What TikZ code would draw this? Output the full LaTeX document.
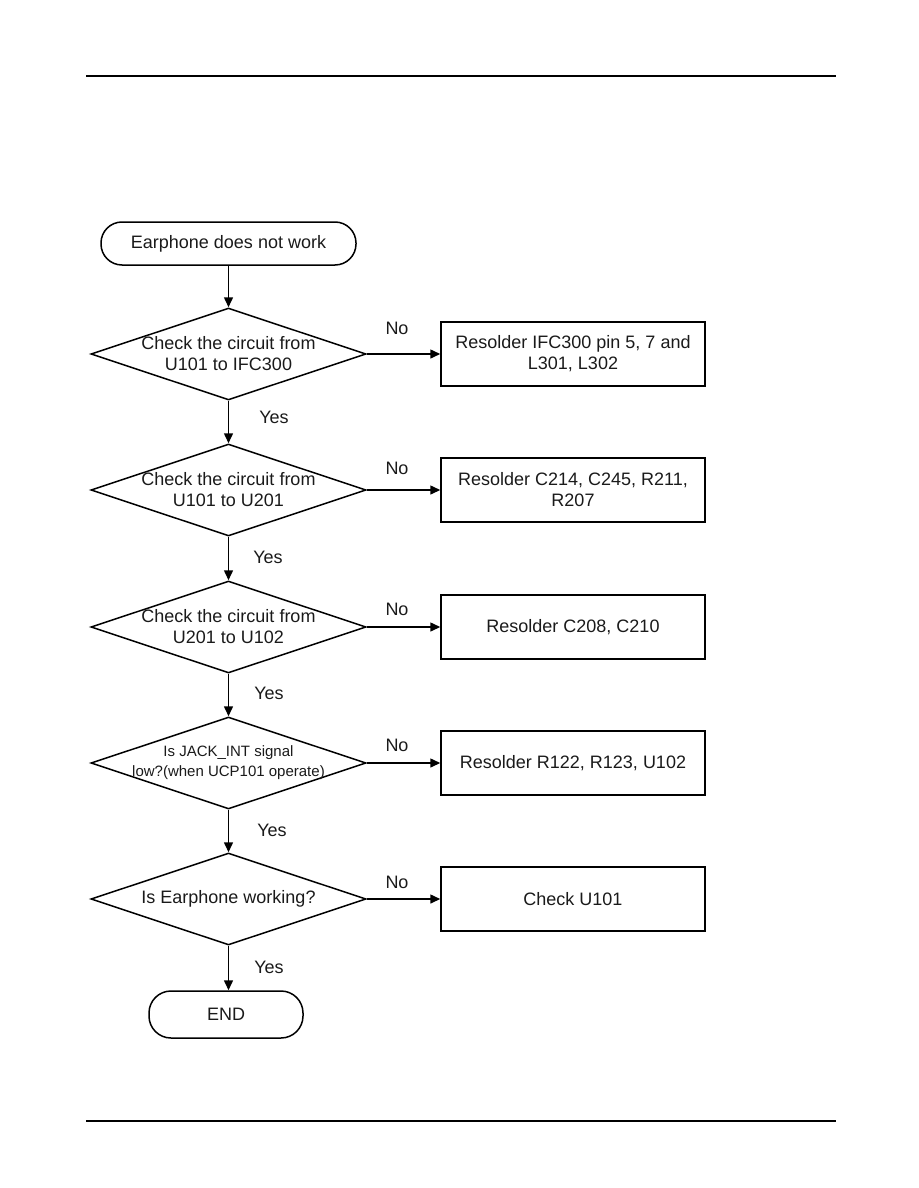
\documentclass[tikz,border=0pt]{standalone}
\usepackage{fontspec}
\setmainfont{Liberation Sans}
\usetikzlibrary{shapes.geometric,arrows.meta}
\definecolor{ink}{HTML}{1A1A1A}
\begin{document}
\begin{tikzpicture}[x=1pt,y=-1pt,
  every node/.style={text=ink},
  term/.style={draw=black,line width=1.5pt,rectangle,rounded corners=21pt,minimum width=255pt,minimum height=43pt,inner sep=0pt,font=\fontsize{18}{21}\selectfont},
  termb/.style={term,minimum width=154pt,minimum height=47pt,rounded corners=22pt},
  dia/.style={draw=black,line width=1.5pt,diamond,minimum width=275pt,minimum height=92pt,inner sep=0pt},
  dtext/.style={align=center,inner sep=0pt,font=\fontsize{18}{21}\selectfont},
  dsmall/.style={align=center,inner sep=0pt,font=\fontsize{15}{20}\selectfont},
  act/.style={draw=black,line width=1.5pt,rectangle,minimum width=264pt,minimum height=64pt,inner sep=0pt,align=center,font=\fontsize{18}{21}\selectfont},
  lbl/.style={inner sep=0pt,font=\fontsize{18}{21}\selectfont},
  arr/.style={draw=black,line width=1.5pt,-{Triangle[length=10pt,width=9pt]}},
  rule/.style={draw=black,line width=1.6pt}
]
\useasboundingbox (0,0) rectangle (918,1188);
% header / footer rules
\coordinate (h1) at (86,76); \coordinate (h2) at (836,76);
\coordinate (f1) at (86,1121); \coordinate (f2) at (836,1121);
\draw[rule] (h1) -- (h2);
\draw[rule] (f1) -- (f2);

\node[term] (start) at (228.5,243.5) {Earphone does not work};

\node[dia] (d1) at (228.5,354) {};
\node[dtext] (d1t) at (d1.center) {Check the circuit from\\U101 to IFC300};
\node[act] (b1) at (573,354) {Resolder IFC300 pin 5, 7 and\\L301, L302};

\node[dia] (d2) at (228.5,490) {};
\node[dtext] (d2t) at (d2.center) {Check the circuit from\\U101 to U201};
\node[act] (b2) at (573,490) {Resolder C214, C245, R211,\\R207};

\node[dia] (d3) at (228.5,627) {};
\node[dtext] (d3t) at (d3.center) {Check the circuit from\\U201 to U102};
\node[act] (b3) at (573,627) {Resolder C208, C210};

\node[dia] (d4) at (228.5,763) {};
\node[dsmall] (d4t) at (d4.center) {Is JACK\_INT signal\\low?(when UCP101 operate)};
\node[act] (b4) at (573,763) {Resolder R122, R123, U102};

\node[dia] (d5) at (228.5,899) {};
\node[dtext] (d5t) at (d5.center) {Is Earphone working?};
\node[act] (b5) at (573,899) {Check U101};

\node[termb] (end) at (226,1014.5) {END};

% vertical flow
\draw[arr] (start.south) -- (d1.north);
\draw[arr] (d1.south) -- (d2.north);
\draw[arr] (d2.south) -- (d3.north);
\draw[arr] (d3.south) -- (d4.north);
\draw[arr] (d4.south) -- (d5.north);
\draw[arr] (d5.south) -- (d5.south |- end.north);

% horizontal flow
\draw[arr] (d1.east) -- (b1.west);
\draw[arr] (d2.east) -- (b2.west);
\draw[arr] (d3.east) -- (b3.west);
\draw[arr] (d4.east) -- (b4.west);
\draw[arr] (d5.east) -- (b5.west);

% labels
\node[lbl] (n1) at (397,328) {No};
\node[lbl] (n2) at (397,468) {No};
\node[lbl] (n3) at (397,609) {No};
\node[lbl] (n4) at (397,745) {No};
\node[lbl] (n5) at (397,882) {No};
\node[lbl] (y1) at (274,417) {Yes};
\node[lbl] (y2) at (268,557) {Yes};
\node[lbl] (y3) at (269,693) {Yes};
\node[lbl] (y4) at (272,830) {Yes};
\node[lbl] (y5) at (269,967) {Yes};
\end{tikzpicture}
\end{document}
